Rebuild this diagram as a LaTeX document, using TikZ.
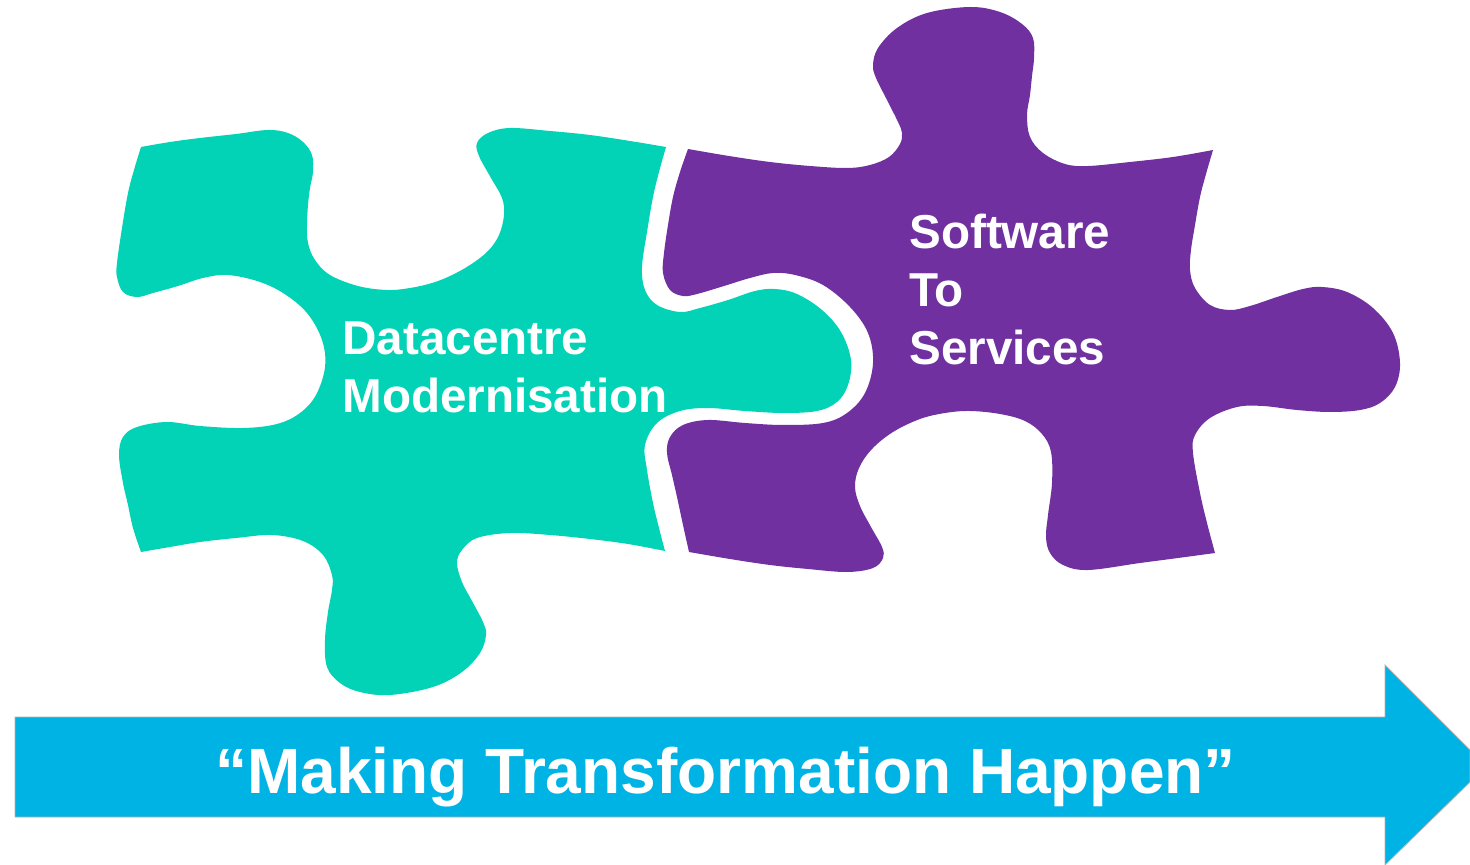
\documentclass[tikz,border=0pt]{standalone}
\usepackage{fontspec}
\setmainfont{Liberation Sans}
\definecolor{piecegreen}{HTML}{02D3B6}
\definecolor{piecepurple}{HTML}{7030A0}
\definecolor{arrowblue}{HTML}{00B3E5}
\tikzstyle{edge}=[smooth, tension=0.6]
\tikzstyle{piecelabel}=[text=white, align=left, anchor=west, inner sep=0, font=\fontsize{23.8}{29}\selectfont\bfseries]
\tikzstyle{arrowlabel}=[text=white, inner sep=0, font=\fontsize{32}{39}\selectfont\bfseries]
\begin{document}
\begin{tikzpicture}[x=0.5pt, y=-0.5pt]
        \useasboundingbox (0, 0) rectangle (1470, 865);
        % left piece
        \fill[piecegreen] plot[edge] coordinates {(141, 147) (170, 142) (200, 138) (236, 134) (268, 130) (288, 133) (303, 142) (312, 155) (313, 172) (310, 188) (308, 205) (307, 225) (308, 243) (315, 260) (330, 275) (358, 286) (387, 290) (410, 288) (432, 283) (450, 276) (470, 265) (488, 251) (499, 235) (504, 215) (502, 198) (491, 178) (479, 156) (477, 143) (488, 133) (510, 128) (550, 131) (590, 135) (630, 141) (666, 147)}
            -- plot[edge] coordinates {(666, 147) (659, 172) (653, 197) (647, 232) (642, 267) (645, 290) (657, 305) (680, 312) (700, 308) (728, 300) (755, 291) (775, 289) (797, 294) (822, 310) (841, 332) (851, 360) (848, 385) (837, 402) (817, 411) (783, 413) (745, 411) (708, 408) (680, 411) (657, 423) (645, 445) (647, 470) (653, 503) (659, 528) (665, 551)}
            -- plot[edge] coordinates {(665, 551) (628, 544) (590, 539) (550, 535) (510, 533) (477, 538) (462, 550) (457, 563) (462, 582) (472, 601) (483, 622) (486, 635) (480, 653) (462, 672) (433, 687) (390, 695) (360, 692) (340, 683) (327, 667) (325, 640) (328, 612) (332, 590) (332, 575) (323, 555) (303, 541) (272, 535) (236, 538) (200, 542) (170, 547) (141, 552)}
            -- plot[edge] coordinates {(141, 552) (133, 528) (128, 505) (123, 483) (119, 455) (123, 437) (137, 427) (167, 422) (200, 426) (243, 428) (277, 424) (300, 413) (316, 395) (325, 367) (322, 340) (307, 313) (283, 293) (257, 281) (227, 275) (203, 278) (178, 286) (153, 293) (137, 297) (123, 292) (117, 277) (117, 263) (122, 228) (128, 193) (134, 170) (141, 147)}
            -- cycle;
        % right piece
        \fill[piecepurple] plot[edge] coordinates {(688, 149) (729, 156) (770, 162) (810, 166) (847, 168) (870, 165) (889, 157) (900, 144) (902, 133) (898, 122) (887, 100) (876, 78) (873, 65) (878, 48) (897, 28) (927, 13) (970, 7) (1000, 12) (1022, 24) (1033, 38) (1034, 58) (1032, 76) (1030, 95) (1027, 115) (1030, 137) (1043, 153) (1065, 164) (1088, 166) (1130, 162) (1173, 157) (1213, 150)}
            -- plot[edge] coordinates {(1213, 150) (1206, 174) (1200, 197) (1195, 225) (1191, 250) (1190, 270) (1195, 288) (1210, 305) (1230, 310) (1250, 306) (1277, 297) (1303, 289) (1322, 287) (1347, 292) (1373, 308) (1393, 333) (1400, 363) (1395, 387) (1380, 403) (1360, 410) (1330, 412) (1297, 410) (1263, 406) (1237, 407) (1210, 418) (1195, 435) (1193, 453) (1200, 493) (1207, 523) (1215, 553)}
            -- plot[edge] coordinates {(1215, 553) (1178, 558) (1140, 563) (1088, 570) (1063, 565) (1050, 553) (1046, 537) (1048, 515) (1052, 483) (1051, 452) (1042, 434) (1025, 421) (1000, 414) (970, 411) (945, 413) (920, 419) (893, 432) (872, 449) (859, 468) (855, 487) (860, 506) (871, 527) (882, 547) (883, 558) (873, 568) (847, 572) (808, 569) (770, 565) (730, 559) (689, 552)}
            -- plot[edge] coordinates {(689, 552) (683, 525) (677, 497) (672, 475) (667, 453) (670, 437) (683, 425) (708, 420) (745, 423) (783, 425) (823, 423) (847, 413) (865, 393) (873, 363) (868, 333) (850, 307) (823, 285) (795, 275) (773, 273) (750, 278) (724, 286) (697, 294) (683, 296) (670, 290) (663, 273) (664, 253) (668, 225) (673, 197) (680, 172) (688, 149)}
            -- cycle;
        % arrow
        \draw[fill=arrowblue, draw=black!30, line width=0.4pt] (15, 717) -- (1385, 717) -- (1385, 665) -- (1470, 750) -- (1470, 782) -- (1385, 865) -- (1385, 817) -- (15, 817) -- cycle;
        % labels
        \node[piecelabel] (datacentre) at (342, 367) {Datacentre\\Modernisation};
        \node[piecelabel] (software) at (909, 289.5) {Software\\To\\Services};
        \node[arrowlabel] (slogan) at (725.5, 777) {“Making Transformation Happen”};
\end{tikzpicture}
\end{document}
